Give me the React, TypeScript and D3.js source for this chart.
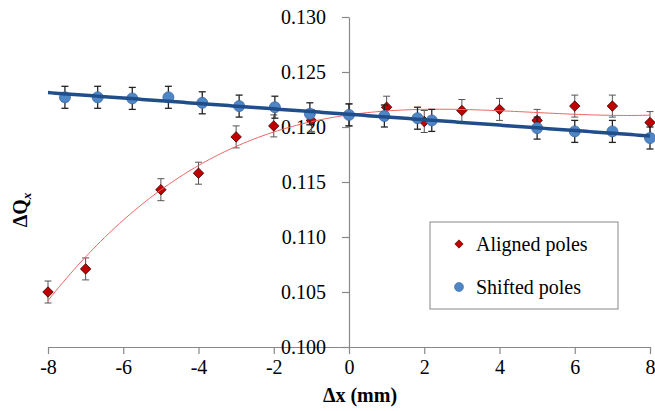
import React, { useEffect, useRef } from "react";
import * as d3 from "d3";

// Aligned poles (red diamonds)
const alignedX = [-8, -7, -5, -4, -3, -2, -1, 0, 1, 2, 3, 4, 5, 6, 7, 8];
const alignedY = [0.105, 0.1071, 0.1143, 0.1158, 0.1191, 0.1201, 0.1206, 0.1211, 0.1218, 0.1205, 0.1215, 0.1216, 0.1206, 0.1219, 0.1219, 0.1204];
const alignedErr = 0.001;

// Shifted poles (blue circles)
const shiftedX = [-7.55, -6.68, -5.76, -4.8, -3.9, -2.92, -1.97, -1.04, 0, 0.94, 1.82, 2.2, 5, 6, 7, 8];
const shiftedY = [0.1227, 0.1227, 0.1226, 0.1227, 0.1222, 0.1219, 0.1218, 0.1212, 0.1211, 0.121, 0.1208, 0.1206, 0.1199, 0.1196, 0.1196, 0.119];
const shiftedErr = 0.001;

const xTicks = [-8, -6, -4, -2, 0, 2, 4, 6, 8];
const yTicks = [0.1, 0.105, 0.11, 0.115, 0.12, 0.125, 0.13];
const legendLabels = ["Aligned poles", "Shifted poles"];

const W = 655;
const H = 411;
const serif = "Liberation Serif";
const css = `
@font-face { font-family: "ChartSerif"; src: local("Liberation Serif"), local("LiberationSerif"); font-weight: normal; font-style: normal; }
@font-face { font-family: "ChartSerif"; src: local("Liberation Serif Bold"), local("LiberationSerif-Bold"); font-weight: bold; font-style: normal; }
@font-face { font-family: "ChartSerif"; src: local("Liberation Serif Italic"), local("LiberationSerif-Italic"); font-weight: normal; font-style: italic; }
@font-face { font-family: "ChartSerif"; src: local("Liberation Serif Bold Italic"), local("LiberationSerif-BoldItalic"); font-weight: bold; font-style: italic; }
svg.chart text, svg.chart tspan { font-family: "Liberation Serif", "ChartSerif", "Times New Roman", serif !important; }
`;

// least squares polynomial fit (trendline)
function polyFit(xs: number[], ys: number[], order: number) {
  const n = order + 1;
  const A: number[][] = [];
  for (let i = 0; i < n; i++) {
    A.push([]);
    for (let j = 0; j < n; j++) A[i].push(d3.sum(xs, (x) => Math.pow(x, i + j)));
    A[i].push(d3.sum(xs, (x, k) => Math.pow(x, i) * ys[k]));
  }
  for (let c = 0; c < n; c++) {
    let p = c;
    for (let r = c + 1; r < n; r++) if (Math.abs(A[r][c]) > Math.abs(A[p][c])) p = r;
    [A[c], A[p]] = [A[p], A[c]];
    for (let r = 0; r < n; r++) {
      if (r === c) continue;
      const f = A[r][c] / A[c][c];
      for (let k = c; k <= n; k++) A[r][k] -= f * A[c][k];
    }
  }
  const coef = A.map((row, i) => row[n] / row[i]);
  return (x: number) => coef.reduce((s, a, i) => s + a * Math.pow(x, i), 0);
}

const App = () => {
  const xAxisRef = useRef<SVGGElement>(null);
  const yAxisRef = useRef<SVGGElement>(null);

  const x = d3.scaleLinear().domain([-8, 8]).range([48, 650]);
  const y = d3.scaleLinear().domain([0.1, 0.13]).range([347, 17]);

  const redFit = polyFit(alignedX, alignedY, 3);
  const blueFit = polyFit(shiftedX, shiftedY, 1);
  const samples = d3.range(-8, 8.001, 0.1);
  const line = d3.line<number>().x((d) => x(d));

  const redPath = line.y((d) => y(redFit(d)))(samples);
  const bluePath = line.y((d) => y(blueFit(d)))(samples);

  const diamond = d3.symbol().type(d3.symbolDiamond2).size(70);
  const diamondSmall = d3.symbol().type(d3.symbolDiamond2).size(45);

  useEffect(() => {
    const xa = d3.select(xAxisRef.current!);
    xa.call(d3.axisBottom(x).tickValues(xTicks).tickSize(7).tickSizeOuter(0) as any);
    xa.attr("font-family", serif).attr("font-size", 20);
    xa.select(".domain").attr("stroke", "#888").attr("stroke-width", 1.2);
    xa.selectAll(".tick line").attr("stroke", "#888").attr("stroke-width", 1.2);
    xa.selectAll(".tick text")
      .attr("fill", "#000")
      .style("font-family", serif)
      .attr("dy", "0.75em")
      .attr("y", 12)
      .text((d: any) => (d < 0 ? "-" + Math.abs(d) : String(d)));

    const ya = d3.select(yAxisRef.current!);
    ya.call(d3.axisLeft(y).tickValues(yTicks).tickSize(7).tickSizeOuter(0).tickFormat(d3.format(".3f")) as any);
    ya.attr("font-family", serif).attr("font-size", 20);
    ya.select(".domain").attr("stroke", "#888").attr("stroke-width", 1.2);
    ya.selectAll(".tick line").attr("stroke", "#888").attr("stroke-width", 1.2);
    ya.selectAll(".tick text").attr("fill", "#000").style("font-family", serif).attr("x", -23);
  }, []);

  return (
    <svg className="chart" width={W} height={H} fontFamily={serif} style={{ position: "absolute", left: 0, top: 0 }}>
      <style>{css}</style>
      <rect width={W} height={H} fill="#fff" />
      <g ref={xAxisRef} transform={`translate(0,${y(0.1)})`} />
      <g ref={yAxisRef} transform={`translate(${x(0)},0)`} />

      {/* aligned poles */}
      <g>
        {alignedX.map((d, i) => {
          const cx = x(d);
          const y0 = y(alignedY[i] - alignedErr);
          const y1 = y(alignedY[i] + alignedErr);
          return (
            <g key={"ea" + i} stroke="#555" strokeWidth={1}>
              <line x1={cx} x2={cx} y1={y0} y2={y1} />
              <line x1={cx - 3.5} x2={cx + 3.5} y1={y0} y2={y0} />
              <line x1={cx - 3.5} x2={cx + 3.5} y1={y1} y2={y1} />
            </g>
          );
        })}
        {alignedX.map((d, i) => (
          <path
            key={"a" + i}
            d={diamond() as string}
            transform={`translate(${x(d)},${y(alignedY[i])})`}
            fill="#c00000"
            stroke="#3a0000"
            strokeWidth={0.8}
          />
        ))}
      </g>
      <path d={redPath as string} fill="none" stroke="#f06464" strokeWidth={1} />

      {/* shifted poles */}
      <g>
        {shiftedX.map((d, i) => {
          const cx = x(d);
          const y0 = y(shiftedY[i] - shiftedErr);
          const y1 = y(shiftedY[i] + shiftedErr);
          return (
            <g key={"es" + i} stroke="#222" strokeWidth={1.3}>
              <line x1={cx} x2={cx} y1={y0} y2={y1} />
              <line x1={cx - 3.5} x2={cx + 3.5} y1={y0} y2={y0} />
              <line x1={cx - 3.5} x2={cx + 3.5} y1={y1} y2={y1} />
            </g>
          );
        })}
        {shiftedX.map((d, i) => (
          <circle key={"s" + i} cx={x(d)} cy={y(shiftedY[i])} r={5.5} fill="#4f86c6" stroke="#3b6aa8" strokeWidth={0.8} />
        ))}
      </g>
      <path d={bluePath as string} fill="none" stroke="#1f4e8a" strokeWidth={3.5} />

      {/* legend */}
      <rect x={430} y={222} width={188} height={87} fill="#fff" stroke="#888" strokeWidth={1} />
      <path d={diamondSmall() as string} transform="translate(459,244)" fill="#c00000" stroke="#3a0000" strokeWidth={0.6} />
      <circle cx={459} cy={287} r={4.5} fill="#4f86c6" stroke="#3b6aa8" strokeWidth={0.6} />
      <text x={476} y={251} fontFamily={serif} fontSize={20}>
        {legendLabels[0]}
      </text>
      <text x={476} y={294} fontFamily={serif} fontSize={20}>
        {legendLabels[1]}
      </text>

      {/* axis titles */}
      <text x={360} y={402} textAnchor="middle" fontFamily={serif} fontSize={20} fontWeight="bold">
        Δx (mm)
      </text>
      <text transform="translate(27,210) rotate(-90)" textAnchor="middle" fontFamily={serif} fontSize={20} fontWeight="bold">
        ΔQ
        <tspan fontSize={13} fontStyle="italic" dy={4}>
          x
        </tspan>
      </text>
    </svg>
  );
};

export default App;
